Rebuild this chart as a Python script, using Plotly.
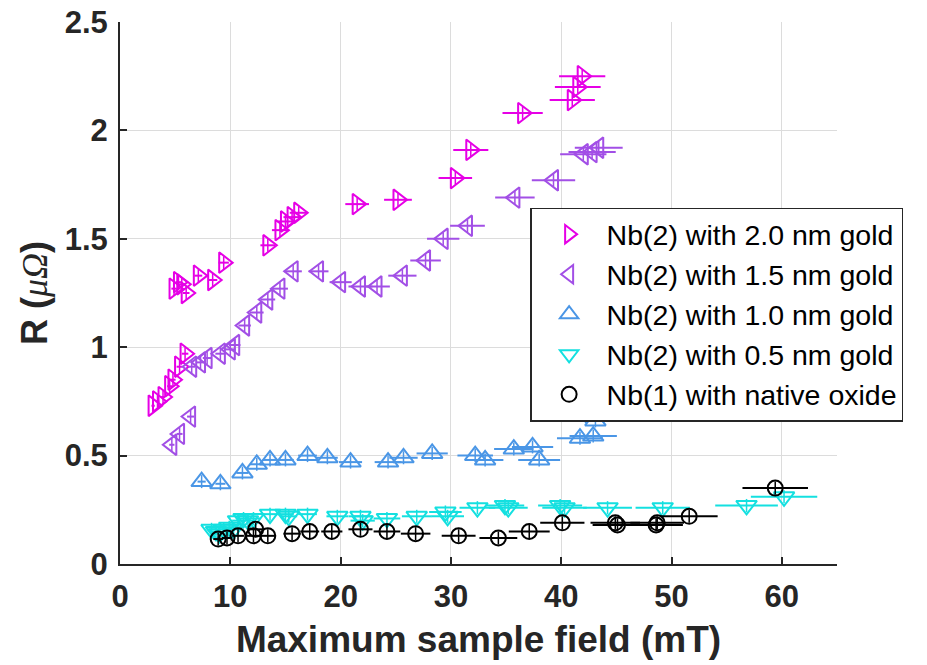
import plotly.graph_objects as go

# Maximum sample field (mT) and surface resistance R (micro-ohm) per sample
nb2_20_x = [3.0, 3.4, 3.9, 4.5, 4.8, 5.4, 5.9,
            4.9, 5.3, 5.6, 6.0, 7.1, 8.4, 9.4,
            13.4, 14.5, 15.0, 15.6, 16.2, 21.5, 25.2, 30.4, 31.8, 36.5, 41.0, 41.5, 41.9]
nb2_20_y = [0.73, 0.75, 0.77, 0.82, 0.85, 0.91, 0.97,
            1.27, 1.30, 1.29, 1.25, 1.33, 1.31, 1.39,
            1.47, 1.54, 1.58, 1.60, 1.62, 1.66, 1.68, 1.78, 1.91, 2.08, 2.14, 2.20, 2.25]

nb2_15_x = [4.7, 5.4, 6.4, 6.5, 7.3, 7.9, 9.1, 10.0, 10.4, 11.3, 12.4, 13.4, 14.5, 15.7,
            18.0, 20.0, 21.8, 23.3, 25.6, 27.7, 29.3, 31.5, 35.8, 39.3, 42.0, 42.8, 43.4]
nb2_15_y = [0.55, 0.60, 0.68, 0.91, 0.93, 0.95, 0.97, 0.99, 1.01, 1.10, 1.16, 1.22, 1.27, 1.35,
            1.35, 1.30, 1.28, 1.28, 1.33, 1.40, 1.50, 1.56, 1.69, 1.77, 1.89, 1.90, 1.92]

nb2_10_x = [7.4, 9.1, 11.1, 12.4, 13.6, 15.0, 17.0, 18.8, 20.9, 24.3, 25.7, 28.3,
            32.2, 33.1, 35.7, 37.4, 38.0, 41.7, 42.2, 42.9, 43.1]
nb2_10_y = [0.38, 0.37, 0.42, 0.46, 0.48, 0.48, 0.50, 0.49, 0.47, 0.47, 0.49, 0.51,
            0.50, 0.48, 0.53, 0.54, 0.48, 0.58, 0.68, 0.59, 0.66]

nb2_05_x = [8.3, 8.7, 9.0, 9.4, 9.9, 10.3, 10.7, 11.2, 11.6, 12.1, 13.6, 15.0, 15.3,
            17.0, 19.7, 21.8, 22.0, 24.2, 26.9, 29.5, 29.7, 32.4, 34.9, 35.2, 39.9, 40.3,
            44.2, 49.2, 56.8, 60.2]
nb2_05_y = [0.16, 0.15, 0.14, 0.16, 0.17, 0.16, 0.20, 0.21, 0.20, 0.21, 0.23, 0.23, 0.22,
            0.23, 0.22, 0.22, 0.20, 0.21, 0.22, 0.24, 0.22, 0.26, 0.27, 0.26, 0.27, 0.26,
            0.26, 0.26, 0.27, 0.31]

nb1_x = [8.9, 9.7, 10.7, 12.1, 12.3, 13.4, 15.6, 17.2, 19.2, 21.8, 24.2, 26.8, 30.7,
         34.3, 37.1, 40.1, 44.9, 45.1, 48.6, 48.7, 51.6, 59.4]
nb1_y = [0.115, 0.12, 0.13, 0.13, 0.16, 0.13, 0.14, 0.15, 0.15, 0.16, 0.15, 0.14, 0.13,
         0.12, 0.15, 0.19, 0.19, 0.18, 0.18, 0.19, 0.22, 0.35]

series = [
    ("Nb(2) with 2.0 nm gold", nb2_20_x, nb2_20_y, "#E600E6", "triangle-right-open", 18),
    ("Nb(2) with 1.5 nm gold", nb2_15_x, nb2_15_y, "#A24FE6", "triangle-left-open", 18),
    ("Nb(2) with 1.0 nm gold", nb2_10_x, nb2_10_y, "#4A96E6", "triangle-up-open", 18),
    ("Nb(2) with 0.5 nm gold", nb2_05_x, nb2_05_y, "#14E0E0", "triangle-down-open", 18),
    ("Nb(1) with native oxide", nb1_x, nb1_y, "#000000", "circle-open", 15),
]

FONT = "Liberation Sans, Arial, sans-serif"
INK = "#262626"

fig = go.Figure()
for name, xs, ys, color, symbol, msize in series:
    fig.add_trace(go.Scatter(
        x=xs, y=ys, mode="markers", name=name,
        marker=dict(symbol=symbol, size=msize, color=color, line=dict(width=2, color=color)),
        error_x=dict(type="percent", value=5, color=color, thickness=2, width=0),
        error_y=dict(type="constant", value=0.03, color=color, thickness=1.5, width=0),
    ))

axis_common = dict(
    showline=True, linecolor=INK, linewidth=2, mirror=False,
    ticks="inside", ticklen=7, tickwidth=2, tickcolor=INK,
    showgrid=True, gridcolor="#dcdcdc", gridwidth=1, zeroline=False,
    automargin=False,
    tickfont=dict(family=FONT, size=31, color=INK, weight="bold"),
)

fig.update_layout(
    width=927, height=665,
    margin=dict(l=120, r=90, t=22, b=101),
    paper_bgcolor="white", plot_bgcolor="white",
    font=dict(family=FONT, color=INK),
    xaxis=dict(range=[0, 65], tickvals=[0, 10, 20, 30, 40, 50, 60],
               ticklabelstandoff=4,
               title=dict(text="Maximum sample field (mT)", standoff=13,
                          font=dict(family=FONT, size=37, color=INK, weight="bold")),
               **axis_common),
    yaxis=dict(range=[0, 2.5], tickvals=[0, 0.5, 1, 1.5, 2, 2.5],
               ticktext=["0", "0.5", "1", "1.5", "2", "2.5"],
               ticklabelstandoff=4,
               title=dict(text="R (<span style='font-family:Liberation Serif, Times New Roman, serif;"
                               "font-weight:normal'><i>μΩ</i></span>)",
                          standoff=6,
                          font=dict(family=FONT, size=36, color=INK, weight="bold")),
               **axis_common),
    legend=dict(x=0.572, y=0.6575, xanchor="left", yanchor="top",
                bgcolor="white", bordercolor="#262626", borderwidth=1.5,
                font=dict(family=FONT, size=28.5, color="black"),
                itemwidth=65, tracegroupgap=0),
    showlegend=True,
)

fig.write_html("out.html")
